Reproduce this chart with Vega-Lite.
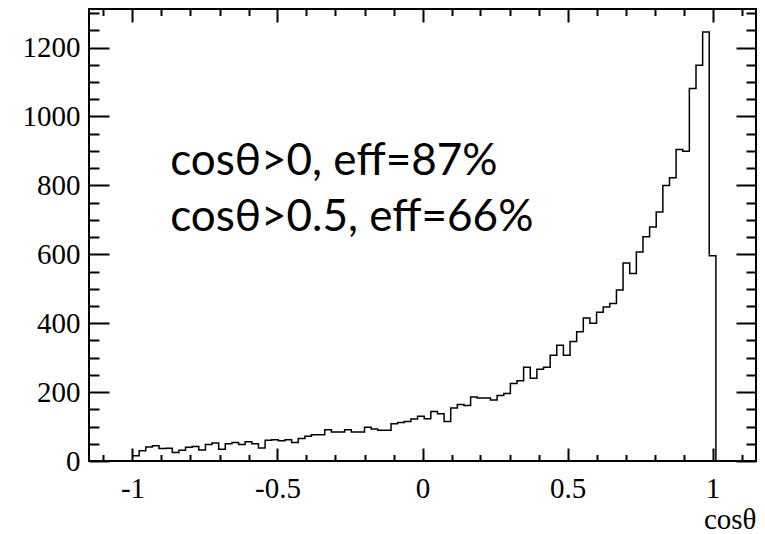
{
  "$schema": "https://vega.github.io/schema/vega-lite/v6.json",
  "width": 667,
  "height": 452,
  "autosize": "none",
  "padding": {"left": 89, "top": 9, "right": 9, "bottom": 73},
  "background": "white",
  "config": {
    "view": {"stroke": "black", "strokeWidth": 2},
    "axis": {"domain": false, "grid": false, "tickWidth": 2, "tickColor": "black", "labelColor": "black",
             "labelFont": "Liberation Serif", "labelFontSize": 29, "labelFlush": false, "labelOverlap": false, "labelBound": false}
  },
  "resolve": {"axis": {"x": "independent", "y": "independent"}},
  "datasets": {
    "hist": [
      {"x": -1.0000, "n": 15}, {"x": -0.9771, "n": 30}, {"x": -0.9543, "n": 41}, {"x": -0.9314, "n": 44},
      {"x": -0.9086, "n": 36}, {"x": -0.8857, "n": 37}, {"x": -0.8628, "n": 25}, {"x": -0.8400, "n": 31},
      {"x": -0.8171, "n": 40}, {"x": -0.7943, "n": 42}, {"x": -0.7714, "n": 32}, {"x": -0.7485, "n": 48},
      {"x": -0.7257, "n": 52}, {"x": -0.7028, "n": 34}, {"x": -0.6800, "n": 50}, {"x": -0.6571, "n": 54},
      {"x": -0.6342, "n": 48}, {"x": -0.6114, "n": 56}, {"x": -0.5885, "n": 50}, {"x": -0.5657, "n": 38},
      {"x": -0.5428, "n": 60}, {"x": -0.5199, "n": 62}, {"x": -0.4971, "n": 59}, {"x": -0.4742, "n": 62},
      {"x": -0.4514, "n": 54}, {"x": -0.4285, "n": 65}, {"x": -0.4056, "n": 72}, {"x": -0.3828, "n": 76},
      {"x": -0.3599, "n": 76}, {"x": -0.3371, "n": 91}, {"x": -0.3142, "n": 84}, {"x": -0.2913, "n": 84},
      {"x": -0.2685, "n": 91}, {"x": -0.2456, "n": 84}, {"x": -0.2228, "n": 84}, {"x": -0.1999, "n": 98},
      {"x": -0.1770, "n": 93}, {"x": -0.1542, "n": 89}, {"x": -0.1313, "n": 89}, {"x": -0.1085, "n": 108},
      {"x": -0.0856, "n": 112}, {"x": -0.0627, "n": 115}, {"x": -0.0399, "n": 122}, {"x": -0.0170, "n": 130},
      {"x": 0.0058, "n": 123}, {"x": 0.0287, "n": 144}, {"x": 0.0516, "n": 137}, {"x": 0.0744, "n": 115},
      {"x": 0.0973, "n": 154}, {"x": 0.1201, "n": 164}, {"x": 0.1430, "n": 161}, {"x": 0.1659, "n": 186},
      {"x": 0.1887, "n": 183}, {"x": 0.2116, "n": 183}, {"x": 0.2344, "n": 177}, {"x": 0.2573, "n": 190},
      {"x": 0.2802, "n": 196}, {"x": 0.3030, "n": 225}, {"x": 0.3259, "n": 233}, {"x": 0.3487, "n": 272},
      {"x": 0.3716, "n": 240}, {"x": 0.3945, "n": 266}, {"x": 0.4173, "n": 272}, {"x": 0.4402, "n": 307},
      {"x": 0.4630, "n": 336}, {"x": 0.4859, "n": 307}, {"x": 0.5088, "n": 347}, {"x": 0.5316, "n": 375},
      {"x": 0.5545, "n": 415}, {"x": 0.5773, "n": 400}, {"x": 0.6002, "n": 432}, {"x": 0.6231, "n": 447},
      {"x": 0.6459, "n": 457}, {"x": 0.6688, "n": 496}, {"x": 0.6916, "n": 575}, {"x": 0.7145, "n": 544},
      {"x": 0.7374, "n": 607}, {"x": 0.7602, "n": 651}, {"x": 0.7831, "n": 679}, {"x": 0.8059, "n": 723},
      {"x": 0.8288, "n": 800}, {"x": 0.8517, "n": 822}, {"x": 0.8745, "n": 904}, {"x": 0.8974, "n": 899},
      {"x": 0.9202, "n": 1081}, {"x": 0.9431, "n": 1149}, {"x": 0.9660, "n": 1245}, {"x": 0.9888, "n": 596},
      {"x": 1.0117, "n": 0}
    ]
  },
  "layer": [
    {
      "data": {"name": "hist"},
      "mark": {"type": "line", "interpolate": "step-after", "color": "black", "strokeWidth": 1.5},
      "encoding": {
        "x": {
          "field": "x", "type": "quantitative",
          "scale": {"domain": [-1.15, 1.15], "nice": false, "zero": false},
          "axis": {
            "orient": "bottom", "values": [-1, -0.5, 0, 0.5, 1],
            "offset": -13, "tickSize": 13, "labelPadding": 13,
            "labelExpr": "'' + datum.value",
            "title": "cosθ", "titleFont": "Liberation Serif", "titleFontSize": 29, "titleFontWeight": "normal",
            "titleColor": "black", "titleAnchor": "end", "titleAlign": "right", "titleBaseline": "alphabetic",
            "titleX": 667, "titleY": 80
          }
        },
        "y": {
          "field": "n", "type": "quantitative",
          "scale": {"domain": [0, 1312], "nice": false},
          "axis": {
            "orient": "left", "values": [0, 200, 400, 600, 800, 1000, 1200],
            "offset": -20, "tickSize": 20, "labelPadding": 9,
            "labelExpr": "'' + datum.value",
            "title": null
          }
        }
      }
    },
    {
      "data": {"values": [
        {"tx": -0.87, "ty": 831, "t": "cosθ>0, eff=87%"},
        {"tx": -0.87, "ty": 669, "t": "cosθ>0.5, eff=66%"}
      ]},
      "mark": {"type": "text", "align": "left", "baseline": "alphabetic", "font": "Lato", "fontSize": 44, "color": "black"},
      "encoding": {
        "x": {
          "field": "tx", "type": "quantitative",
          "scale": {"domain": [-1.15, 1.15], "nice": false, "zero": false},
          "axis": {"orient": "top", "values": [-1, -0.5, 0, 0.5, 1], "offset": -13, "tickSize": 13, "labels": false, "title": null}
        },
        "y": {
          "field": "ty", "type": "quantitative",
          "scale": {"domain": [0, 1312], "nice": false},
          "axis": {"orient": "right", "values": [0, 200, 400, 600, 800, 1000, 1200], "offset": -20, "tickSize": 20, "labels": false, "title": null}
        },
        "text": {"field": "t", "type": "nominal"}
      }
    },
    {
      "data": {"name": "hist"},
      "mark": {"type": "line", "interpolate": "step-after", "strokeOpacity": 0},
      "encoding": {
        "x": {
          "field": "x", "type": "quantitative",
          "scale": {"domain": [-1.15, 1.15], "nice": false, "zero": false},
          "axis": {"orient": "bottom", "values": [-1.1, -0.9, -0.8, -0.7, -0.6, -0.4, -0.3, -0.2, -0.1, 0.1, 0.2, 0.3, 0.4, 0.6, 0.7, 0.8, 0.9, 1.1],
                   "offset": -6.5, "tickSize": 6.5, "labels": false, "title": null}
        },
        "y": {
          "field": "n", "type": "quantitative",
          "scale": {"domain": [0, 1312], "nice": false},
          "axis": {"orient": "left", "values": [50, 100, 150, 250, 300, 350, 450, 500, 550, 650, 700, 750, 850, 900, 950, 1050, 1100, 1150, 1250, 1300],
                   "offset": -10, "tickSize": 10, "labels": false, "title": null}
        }
      }
    },
    {
      "data": {"name": "hist"},
      "mark": {"type": "line", "interpolate": "step-after", "strokeOpacity": 0},
      "encoding": {
        "x": {
          "field": "x", "type": "quantitative",
          "scale": {"domain": [-1.15, 1.15], "nice": false, "zero": false},
          "axis": {"orient": "top", "values": [-1.1, -0.9, -0.8, -0.7, -0.6, -0.4, -0.3, -0.2, -0.1, 0.1, 0.2, 0.3, 0.4, 0.6, 0.7, 0.8, 0.9, 1.1],
                   "offset": -6.5, "tickSize": 6.5, "labels": false, "title": null}
        },
        "y": {
          "field": "n", "type": "quantitative",
          "scale": {"domain": [0, 1312], "nice": false},
          "axis": {"orient": "right", "values": [50, 100, 150, 250, 300, 350, 450, 500, 550, 650, 700, 750, 850, 900, 950, 1050, 1100, 1150, 1250, 1300],
                   "offset": -10, "tickSize": 10, "labels": false, "title": null}
        }
      }
    }
  ]
}
